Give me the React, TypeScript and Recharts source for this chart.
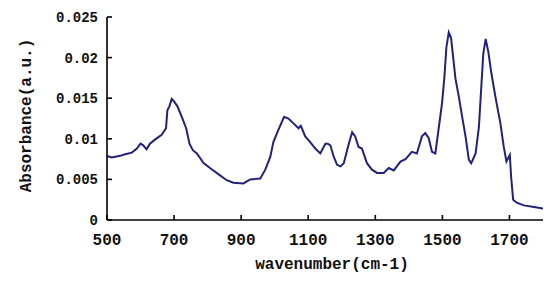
import React from 'react';
import { LineChart, Line, XAxis, YAxis, Label } from 'recharts';

const wavenumber = [
  500, 514, 539, 554, 574, 589, 600, 608, 618, 628, 643, 663, 676, 680, 686, 693, 700, 710, 723, 736,
  746, 756, 768, 788, 807, 837, 857, 877, 907, 927, 957, 972, 987, 996, 1011, 1028, 1041, 1056, 1071,
  1078, 1091, 1106, 1121, 1136, 1151, 1158, 1166, 1176, 1186, 1196, 1206, 1221, 1231, 1240, 1250, 1260,
  1275, 1290, 1305, 1325, 1340, 1355, 1375, 1390, 1409, 1424, 1439, 1449, 1459, 1469, 1479, 1489, 1499,
  1506, 1512, 1519, 1526, 1532, 1539, 1549, 1559, 1569, 1579, 1586, 1599, 1609, 1616, 1622, 1629, 1637,
  1646, 1658, 1673, 1683, 1691, 1701, 1705, 1711, 1723, 1743, 1773, 1800,
];

const absorbance = [
  0.0079, 0.0077, 0.0079, 0.0081, 0.0083, 0.0088, 0.0094, 0.0092, 0.0087, 0.0094, 0.0099, 0.0105, 0.0113,
  0.0135, 0.014, 0.0149, 0.0146, 0.014, 0.0127, 0.0113, 0.0094, 0.0086, 0.0082, 0.007, 0.0064, 0.0055,
  0.0049, 0.0046, 0.0045, 0.005, 0.0051, 0.0062, 0.0078, 0.0096, 0.0111, 0.0127, 0.0125, 0.0119, 0.0113,
  0.0116, 0.0103, 0.0096, 0.0088, 0.0082, 0.0094, 0.0094, 0.0092, 0.0078, 0.0068, 0.0066, 0.007, 0.0094,
  0.0108, 0.0103, 0.009, 0.0088, 0.007, 0.0062, 0.0058, 0.0058, 0.0064, 0.0061, 0.0072, 0.0075, 0.0084,
  0.0082, 0.0103, 0.0107, 0.0101, 0.0084, 0.0082, 0.0113, 0.0144, 0.0176, 0.0213, 0.0231, 0.0224, 0.0201,
  0.0174, 0.0152, 0.0127, 0.0103, 0.0074, 0.007, 0.0082, 0.0115, 0.0164, 0.0205, 0.0223, 0.0207, 0.0181,
  0.0152, 0.0119, 0.009, 0.0072, 0.008, 0.0053, 0.0025, 0.0021, 0.0018, 0.0016, 0.0014,
];

const xTicks = [500, 700, 900, 1100, 1300, 1500, 1700];
const yTicks = [0, 0.005, 0.01, 0.015, 0.02, 0.025];

const data = wavenumber.map((w, i) => ({ w, a: absorbance[i] }));

const font = '"Liberation Mono", "DejaVu Sans Mono", monospace';

export default function App() {
  return (
    <div style={{ position: 'absolute', left: 0, top: 0, background: '#fff' }}>
      <LineChart width={544} height={281} data={data} margin={{ top: 17, right: 1, left: 0, bottom: 0 }}>
        <XAxis
          dataKey="w"
          type="number"
          domain={[500, 1800]}
          ticks={xTicks}
          allowDataOverflow
          height={61}
          stroke="#000"
          strokeWidth={1.6}
          tickSize={-5}
          tickMargin={19}
          tick={{ fill: '#111', fontSize: 16, fontFamily: font, fontWeight: 'bold' }}
        >
          <Label
            value="wavenumber(cm-1)"
            position="insideBottom"
            offset={12}
            dx={7}
            style={{ fill: '#111', fontSize: 16, fontFamily: font, fontWeight: 'bold' }}
          />
        </XAxis>
        <YAxis
          type="number"
          domain={[0, 0.025]}
          ticks={yTicks}
          width={107}
          stroke="#000"
          strokeWidth={1.6}
          tickSize={-5}
          tickMargin={14}
          tick={{ fill: '#111', fontSize: 14, fontFamily: font, fontWeight: 'bold' }}
        >
          <Label
            value="Absorbance(a.u.)"
            angle={-90}
            position="insideLeft"
            offset={25}
            dy={-3}
            style={{ fill: '#111', fontSize: 16, fontFamily: font, fontWeight: 'bold', textAnchor: 'middle' }}
          />
        </YAxis>
        <Line
          type="linear"
          dataKey="a"
          stroke="#22227a"
          strokeWidth={2}
          dot={false}
          isAnimationActive={false}
        />
      </LineChart>
    </div>
  );
}
